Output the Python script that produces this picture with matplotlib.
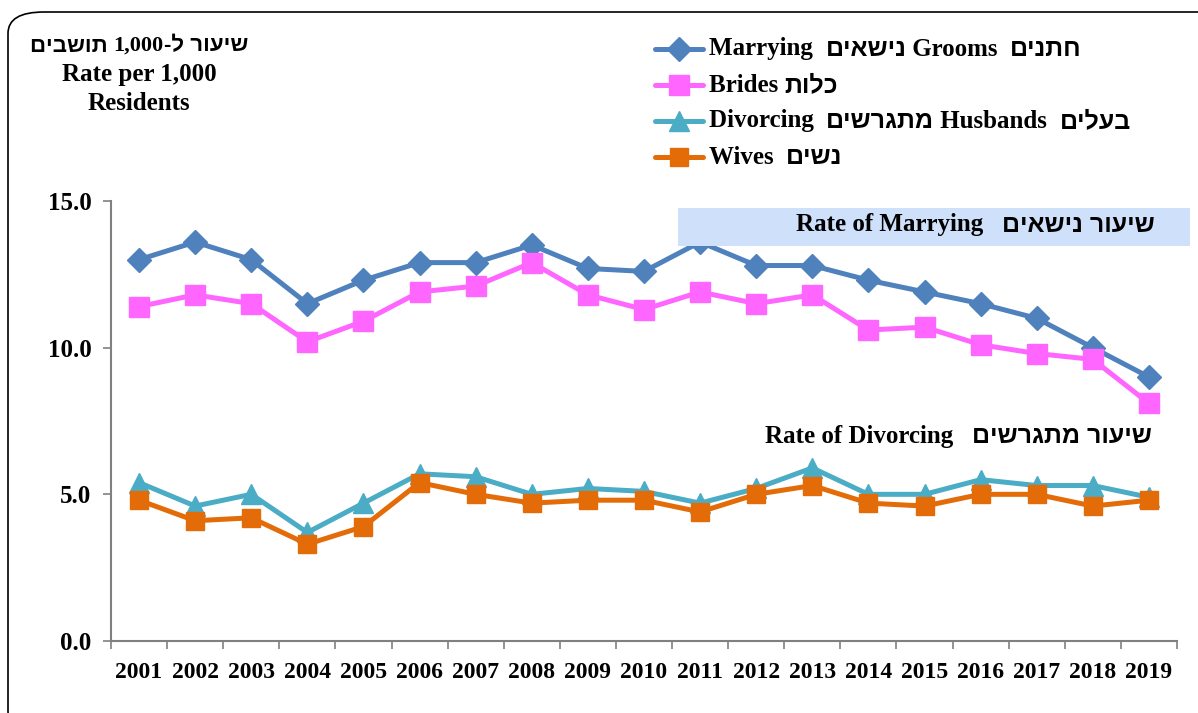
import matplotlib
matplotlib.use("Agg")
import matplotlib.pyplot as plt
from matplotlib.patches import FancyBboxPatch, Rectangle
from matplotlib.lines import Line2D

years = ["2001", "2002", "2003", "2004", "2005", "2006", "2007", "2008", "2009", "2010",
         "2011", "2012", "2013", "2014", "2015", "2016", "2017", "2018", "2019"]
grooms = [13.0, 13.6, 13.0, 11.5, 12.3, 12.9, 12.9, 13.5, 12.7, 12.6,
          13.6, 12.8, 12.8, 12.3, 11.9, 11.5, 11.0, 10.0, 9.0]
brides = [11.4, 11.8, 11.5, 10.2, 10.9, 11.9, 12.1, 12.9, 11.8, 11.3,
          11.9, 11.5, 11.8, 10.6, 10.7, 10.1, 9.8, 9.6, 8.1]
husbands = [5.4, 4.6, 5.0, 3.7, 4.7, 5.7, 5.6, 5.0, 5.2, 5.1,
            4.7, 5.2, 5.9, 5.0, 5.0, 5.5, 5.3, 5.3, 4.9]
wives = [4.8, 4.1, 4.2, 3.3, 3.9, 5.4, 5.0, 4.7, 4.8, 4.8,
         4.4, 5.0, 5.3, 4.7, 4.6, 5.0, 5.0, 4.6, 4.8]
yticks = [0.0, 5.0, 10.0, 15.0]


def rv(s):
    # Hebrew is right-to-left: give matplotlib the visual order
    return s[::-1]


LAT = ["Liberation Serif", "DejaVu Serif"]
HEB = ["Liberation Sans", "DejaVu Sans"]
plt.rcParams["font.family"] = LAT
plt.rcParams["font.weight"] = "bold"

fig = plt.figure(figsize=(11.98, 7.13), dpi=100)
W, H = 1198, 713
renderer = fig.canvas.get_renderer()


def runs(xp, yp, parts, size, ha="left", zorder=6):
    """Draw pieces [(text, is_hebrew)] left to right at pixel position."""
    objs = []
    widths = []
    for txt, heb in parts:
        t = fig.text(0, 0, txt, fontsize=size, fontweight="bold",
                     family=HEB if heb else LAT, va="center", ha="left", zorder=zorder)
        bb = t.get_window_extent(renderer=renderer)
        objs.append(t)
        widths.append(bb.width)
    total = sum(widths)
    if ha == "right":
        start = xp - total
    elif ha == "center":
        start = xp - total / 2
    else:
        start = xp
    cur = start
    for t, w in zip(objs, widths):
        t.set_position((cur / W, 1 - yp / H))
        cur += w


# outer rounded frame
frame = FancyBboxPatch((8 / W, -20 / H), 1.2, (713 - 12 + 20) / H,
                       boxstyle="round,pad=0,rounding_size=0.03",
                       transform=fig.transFigure, fill=False,
                       edgecolor="black", linewidth=1.2)
fig.patches.append(frame)

ax = fig.add_axes([111 / W, 1 - 641 / H, (1177 - 111) / W, (641 - 201) / H])
x = list(range(len(years)))

series = [
    (grooms, "#4F81BD", "D", 12),
    (brides, "#FF66FF", "s", 14),
    (husbands, "#4BACC6", "^", 14),
    (wives, "#E36C09", "s", 13),
]
for vals, col, mk, ms in series:
    ax.plot(x, vals, color=col, linewidth=3.6, marker=mk, markersize=ms,
            markerfacecolor=col, markeredgecolor=col, zorder=3)

ax.set_xlim(-0.5, len(years) - 0.5)
ax.set_ylim(0, 15)
ax.set_yticks(yticks)
ax.set_yticklabels([f"{v:.1f}" for v in yticks], fontsize=18, fontweight="bold")
ax.set_xticks(x)
ax.set_xticklabels(years, fontsize=17, fontweight="bold")
ax.set_xticks([i - 0.5 for i in range(len(years) + 1)], minor=True)
ax.tick_params(axis="x", which="major", length=0, pad=15)
ax.tick_params(axis="x", which="minor", length=6, color="#808080", width=1.2)
ax.tick_params(axis="y", length=6, color="#808080", width=1.2, pad=8)
for s in ["top", "right"]:
    ax.spines[s].set_visible(False)
for s in ["left", "bottom"]:
    ax.spines[s].set_color("#808080")
    ax.spines[s].set_linewidth(1.5)

# top-left axis title
runs(139, 46, [(rv("תושבים") + " ", True), ("1,000", False),
               ("-" + rv("ל") + " " + rv("שיעור"), True)], 16, ha="center")
runs(139, 75, [("Rate per 1,000", False)], 18, ha="center")
runs(139, 104, [("Residents", False)], 18, ha="center")

# legend (drawn manually so Hebrew and Latin can use different fonts)
leg_labels = [
    [("Marrying  ", False), (rv("נישאים"), True), (" Grooms  ", False), (rv("חתנים"), True)],
    [("Brides ", False), (rv("כלות"), True)],
    [("Divorcing  ", False), (rv("מתגרשים"), True), (" Husbands  ", False), (rv("בעלים"), True)],
    [("Wives  ", False), (rv("נשים"), True)],
]
rows_y = [49, 85, 121, 157]
for (vals, col, mk, ms), parts, yp in zip(series, leg_labels, rows_y):
    yf = 1 - yp / H
    fig.add_artist(Line2D([655 / W, 703 / W], [yf, yf], color=col, linewidth=3.6,
                          solid_capstyle="round", transform=fig.transFigure))
    fig.add_artist(Line2D([679 / W], [yf], color=col, marker=mk, markersize=ms,
                          markerfacecolor=col, markeredgecolor=col,
                          transform=fig.transFigure))
    runs(709, yp, parts, 18)

# Rate of Marrying box
fig.patches.append(Rectangle((678 / W, 1 - 246 / H), (1190 - 678) / W, 38 / H,
                             transform=fig.transFigure, facecolor="#CFE0FB",
                             edgecolor="none", zorder=5))
runs(1155, 225, [("Rate of Marrying   ", False), (rv("נישאים") + " " + rv("שיעור"), True)],
     18, ha="right")
runs(1152, 436, [("Rate of Divorcing   ", False), (rv("מתגרשים") + " " + rv("שיעור"), True)],
     18, ha="right")

fig.savefig("out.png", dpi=100)
